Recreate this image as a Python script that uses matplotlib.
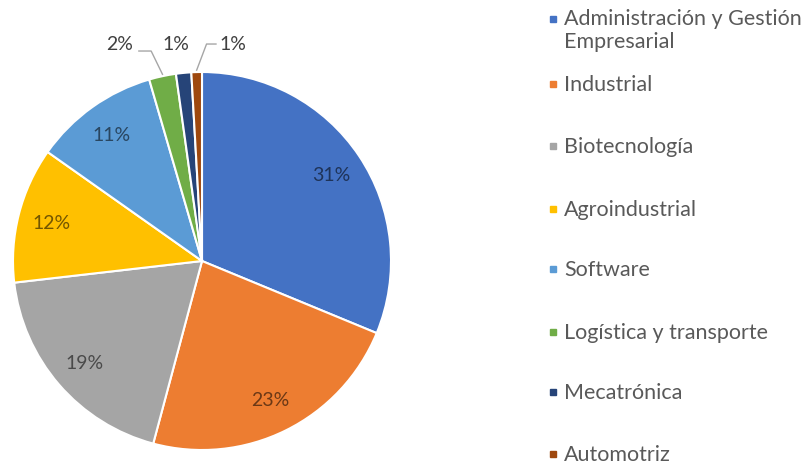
import numpy as np
import matplotlib.pyplot as plt

labels = ["Administración y Gestión\nEmpresarial", "Industrial", "Biotecnología",
          "Agroindustrial", "Software", "Logística y transporte", "Mecatrónica", "Automotriz"]
values = [31.2, 22.9, 19.0, 11.6, 10.7, 2.3, 1.3, 0.9]
colors = ["#4472C4", "#ED7D31", "#A5A5A5", "#FFC000", "#5B9BD5", "#70AD47", "#264478", "#9E480E"]

plt.rcParams['font.family'] = ['Lato', 'DejaVu Sans']
txt_col = "#595959"
lab_col = "#404040"

fig = plt.figure(figsize=(8.12, 4.64), dpi=100)
ax = fig.add_axes([13 / 812, 13 / 464, 378 / 812, 378 / 464])

wedges, texts, autotexts = ax.pie(
    values, colors=colors, startangle=90, counterclock=False,
    autopct=lambda p: "%d%%" % round(p) if p >= 5 else "",
    pctdistance=0.82,
    wedgeprops=dict(edgecolor="white", linewidth=1.5),
    textprops=dict(color="black", alpha=0.55, fontsize=14))
ax.set_xlim(-1, 1)
ax.set_ylim(-1, 1)
ax.set_aspect("equal")

# small slices: labels above the pie, some with leader lines
small = [(5, -0.434, "left"), (6, -0.138, None), (7, 0.164, "right")]
for i, lx, side in small:
    w = wedges[i]
    mid = np.deg2rad((w.theta1 + w.theta2) / 2)
    ax.text(lx, 1.153, "%d%%" % round(values[i]), ha="center", va="center",
            color=lab_col, fontsize=14)
    if side is None:
        continue
    ex, ey = np.cos(mid), np.sin(mid)
    if side == "left":
        xs = [lx + 0.1, lx + 0.165, ex]
        ys = [1.111, 1.111, ey + 0.01]
    else:
        xs = [lx - 0.09, lx - 0.14, ex]
        ys = [1.148, 1.148, ey + 0.01]
    ax.plot(xs, ys, color="#A6A6A6", lw=1, clip_on=False)

# legend on the right
leg_y = [20, 85, 147, 210, 270, 333, 393, 455]
for lab, c, py in zip(labels, colors, leg_y):
    y = 1 - py / 464
    fig.patches.append(plt.Rectangle((550 / 812, y - 3 / 464), 6 / 812, 6 / 464,
                                     transform=fig.transFigure, color=c, figure=fig))
    if "\n" in lab:
        fig.text(564 / 812, y + 11 / 464, lab, ha="left", va="top",
                 fontsize=15.5, color=txt_col, linespacing=1.2)
    else:
        fig.text(564 / 812, y, lab, ha="left", va="center",
                 fontsize=15.5, color=txt_col)

fig.savefig("out.png", dpi=100)
